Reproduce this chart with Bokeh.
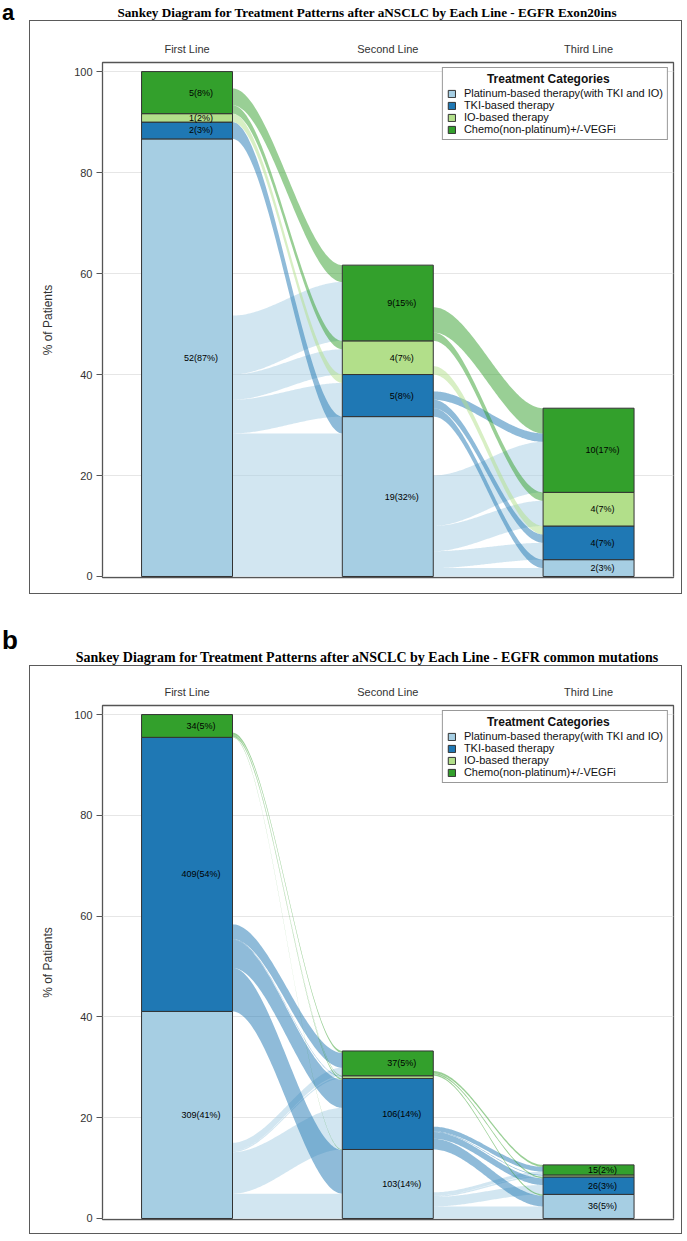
import numpy as np
from bokeh.plotting import figure
from bokeh.models import ColumnDataSource, Range1d, FixedTicker, Legend, LegendItem, Div
from bokeh.layouts import column
from bokeh.embed import file_html
from bokeh.resources import INLINE
from bokeh.core.properties import value

# ---------------- data ----------------
line_names = ["First Line", "Second Line", "Third Line"]
category_names = ["Platinum-based therapy(with TKI and IO)", "TKI-based therapy",
                  "IO-based therapy", "Chemo(non-platinum)+/-VEGFi"]
category_colors = ["#a6cee3", "#1f78b4", "#b2df8a", "#33a02c"]
legend_title = "Treatment Categories"

# Panel a : EGFR Exon20ins
a_title = "Sankey Diagram for Treatment Patterns after aNSCLC by Each Line - EGFR Exon20ins"
a_total = 60
a_line1 = [52, 2, 1, 5]
a_line2 = [19, 5, 4, 9]
a_line3 = [2, 4, 4, 10]
# flows: step (0 = first->second, 1 = second->third), source category, target category, patients
a_flow_step = [0, 0, 0, 0, 0, 0, 0, 0, 1, 1, 1, 1, 1, 1, 1, 1, 1, 1]
a_flow_src = [0, 0, 0, 0, 1, 2, 3, 3, 0, 0, 0, 0, 1, 1, 1, 2, 3, 3]
a_flow_tgt = [0, 1, 2, 3, 0, 1, 2, 3, 0, 1, 2, 3, 0, 1, 3, 1, 2, 3]
a_flow_n = [17, 4, 3, 7, 2, 1, 1, 2, 1, 2, 3, 6, 1, 1, 1, 1, 1, 3]

# Panel b : EGFR common mutations
b_title = "Sankey Diagram for Treatment Patterns after aNSCLC by Each Line - EGFR common mutations"
b_total = 752
b_line1 = [309, 409, 0, 34]
b_line2 = [103, 106, 4, 37]
b_line3 = [36, 26, 3, 15]
b_flow_step = [0] * 12 + [1] * 11
b_flow_src = [0, 0, 0, 0, 1, 1, 1, 1, 3, 3, 3, 3, 0, 0, 0, 0, 1, 1, 1, 1, 3, 3, 3]
b_flow_tgt = [0, 1, 2, 3, 0, 1, 2, 3, 0, 1, 2, 3, 0, 1, 2, 3, 0, 1, 2, 3, 0, 1, 3]
b_flow_n = [37, 62, 2, 12, 65, 42, 1, 22, 1, 2, 1, 3, 18, 14, 2, 5, 16, 10, 1, 7, 2, 2, 3]

# ---------------- geometry / style ----------------
BAR_W = 0.453
X_START, X_END = 0.579, 3.423
FONT = "Liberation Sans"


def make_panel(total, line_counts, fstep, fsrc, ftgt, fn, fig_h, b_top, b_bottom):
    p = figure(width=653, height=fig_h, x_range=Range1d(X_START, X_END), y_range=Range1d(-0.2, 101.8),
               output_backend="svg", toolbar_location=None, x_axis_location="above",
               min_border_left=72, min_border_right=10, min_border_top=b_top, min_border_bottom=b_bottom,
               background_fill_color="white", border_fill_color="white")
    p.styles = {"border": "1px solid #5a5a5a"}
    p.margin = (0, 0, 0, 29)
    p.outline_line_color = "#555555"
    p.outline_line_width = 1.3
    p.xgrid.visible = False
    p.ygrid.grid_line_color = "#e6e6e6"
    p.ygrid.grid_line_width = 1

    xa = p.xaxis[0]
    xa.ticker = FixedTicker(ticks=[1, 2, 3])
    xa.major_label_overrides = {1: line_names[0], 2: line_names[1], 3: line_names[2]}
    xa.axis_line_color = None
    xa.major_tick_line_color = None
    xa.minor_tick_line_color = None
    xa.major_tick_out = 0
    xa.major_tick_in = 0
    xa.minor_tick_out = 0
    xa.minor_tick_in = 0
    xa.major_label_standoff = 8
    xa.major_label_text_font = FONT
    xa.major_label_text_font_size = "11px"
    xa.major_label_text_color = "#333333"

    ya = p.yaxis[0]
    ya.ticker = FixedTicker(ticks=[0, 20, 40, 60, 80, 100])
    ya.axis_line_color = None
    ya.minor_tick_line_color = None
    ya.major_tick_line_color = "#555555"
    ya.major_tick_out = 6
    ya.major_tick_in = 0
    ya.major_label_standoff = 4
    ya.major_label_text_font = FONT
    ya.major_label_text_font_size = "11px"
    ya.major_label_text_color = "#333333"
    ya.axis_label = "% of Patients"
    ya.axis_label_text_font = FONT
    ya.axis_label_text_font_size = "12px"
    ya.axis_label_text_font_style = "normal"
    ya.axis_label_text_color = "#333333"
    ya.axis_label_standoff = 16

    # node stacks (percent of patients)
    bottoms = []
    for counts in line_counts:
        cum, b = 0.0, []
        for n in counts:
            b.append(cum)
            cum += n * 100.0 / total
        bottoms.append(b)

    # link positions: stacked from node bottom, ordered by target (at source) / by source (at target)
    nflow = len(fn)
    src_cur = [list(b) for b in bottoms]
    tgt_cur = [list(b) for b in bottoms]
    y_src = [0.0] * nflow
    y_tgt = [0.0] * nflow
    for i in sorted(range(nflow), key=lambda i: (fstep[i], fsrc[i], ftgt[i])):
        y_src[i] = src_cur[fstep[i]][fsrc[i]]
        src_cur[fstep[i]][fsrc[i]] += fn[i] * 100.0 / total
    for i in sorted(range(nflow), key=lambda i: (fstep[i], ftgt[i], fsrc[i])):
        y_tgt[i] = tgt_cur[fstep[i] + 1][ftgt[i]]
        tgt_cur[fstep[i] + 1][ftgt[i]] += fn[i] * 100.0 / total

    t = np.linspace(0, 1, 80)
    s = t * t * (3 - 2 * t)
    xs, ys, cols = [], [], []
    for i in range(nflow):
        x0 = fstep[i] + 1 + BAR_W / 2
        x1 = fstep[i] + 2 - BAR_W / 2
        h = fn[i] * 100.0 / total
        xc = x0 + (x1 - x0) * t
        lo = y_src[i] + (y_tgt[i] - y_src[i]) * s
        xs.append(np.concatenate([xc, xc[::-1]]).tolist())
        ys.append(np.concatenate([lo, (lo + h)[::-1]]).tolist())
        cols.append(category_colors[fsrc[i]])
    p.patches(xs="xs", ys="ys", fill_color="color", fill_alpha=0.5, line_color=None,
              source=ColumnDataSource(dict(xs=xs, ys=ys, color=cols)))

    # bars
    renderers = []
    lx, ly, lt = [], [], []
    for c in range(4):
        bx, bb, bt = [], [], []
        for li, counts in enumerate(line_counts):
            n = counts[c]
            if n == 0:
                continue
            h = n * 100.0 / total
            bx.append(li + 1)
            bb.append(bottoms[li][c])
            bt.append(bottoms[li][c] + h)
            if h >= 1.0:
                lx.append(li + 1)
                ly.append(bottoms[li][c] + h / 2)
                lt.append("%d(%d%%)" % (n, int(h + 0.5)))
        r = p.vbar(x="x", bottom="b", top="t", width=BAR_W, fill_color=category_colors[c],
                   line_color="#333333", line_width=1,
                   source=ColumnDataSource(dict(x=bx, b=bb, t=bt)))
        renderers.append(r)

    p.text(x="x", y="y", text="text", source=ColumnDataSource(dict(x=lx, y=ly, text=lt)),
           text_font=value(FONT), text_font_size="9px", text_color="#000000",
           text_align="center", text_baseline="middle", x_offset=14)

    legend = Legend(items=[LegendItem(label=category_names[c], renderers=[renderers[c]]) for c in range(4)],
                    location="top_right", title="\u00a0" * 12 + legend_title)
    legend.margin = 5
    legend.padding = 4
    legend.spacing = 0
    legend.glyph_width = 9
    legend.glyph_height = 9
    legend.label_height = 12
    legend.label_standoff = 8
    legend.label_text_font = FONT
    legend.label_text_font_size = "11px"
    legend.label_text_color = "#111111"
    legend.title_text_font = FONT
    legend.title_text_font_size = "12px"
    legend.title_text_font_style = "bold"
    legend.title_text_color = "#111111"
    legend.title_standoff = 1
    legend.border_line_color = "#333333"
    legend.border_line_width = 1
    legend.background_fill_alpha = 1.0
    p.add_layout(legend)
    return p


def header(letter, title, height, letter_top, letter_size, title_top, title_size):
    html = (
        '<div style="position:relative;width:684px;height:%dpx;">'
        '<span style="position:absolute;left:2px;top:%dpx;line-height:12px;font-family:\'Liberation Sans\';'
        'font-weight:bold;font-size:%dpx;color:#000;">%s</span>'
        '<span style="position:absolute;left:0px;width:734px;top:%dpx;text-align:center;'
        'font-family:\'Liberation Serif\';font-weight:bold;font-size:%spx;white-space:nowrap;color:#000;">%s</span>'
        '</div>' % (height, letter_top, letter_size, letter, title_top, title_size, title)
    )
    return Div(text=html, width=684, height=height, margin=(0, 0, 0, 0))


fig_a = make_panel(a_total, [a_line1, a_line2, a_line3], a_flow_step, a_flow_src, a_flow_tgt, a_flow_n,
                   574, 41, 18)
fig_b = make_panel(b_total, [b_line1, b_line2, b_line3], b_flow_step, b_flow_src, b_flow_tgt, b_flow_n,
                   569, 39, 16)

div_a = header("a", a_title, 20, 7, 22, 4, 13.2)
div_b = header("b", b_title, 71, 40, 26, 54, 14)

layout = column(div_a, fig_a, div_b, fig_b, spacing=0)
open("out.html", "w").write(file_html(layout, INLINE))
